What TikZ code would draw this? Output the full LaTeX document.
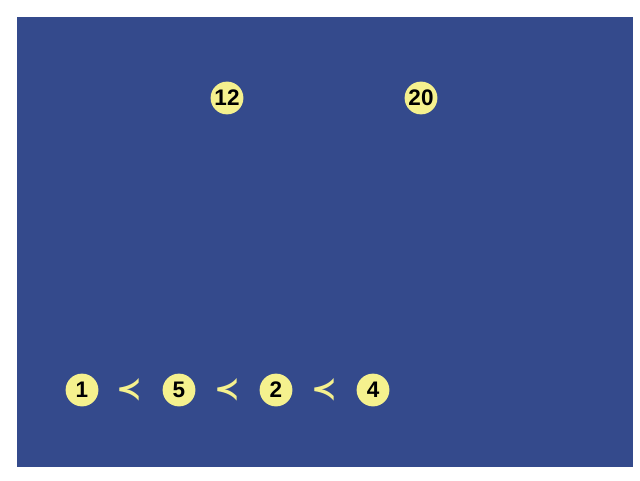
\documentclass[tikz,border=0pt]{standalone}
\usepackage{fontspec}
\setmainfont{Liberation Sans}
\newfontfamily\symfont{DejaVu Sans}
\usetikzlibrary{positioning}

\definecolor{panelblue}{RGB}{52,74,140}
\definecolor{ballyellow}{RGB}{245,241,142}

\tikzset{
  ball/.style={circle, fill=ballyellow, minimum size=0.82cm, inner sep=0pt,
    font=\fontsize{16}{18}\selectfont\bfseries, text=black},
  rel/.style={text=ballyellow, font=\symfont\bfseries\fontsize{22}{24}\selectfont, inner sep=0pt}
}

\begin{document}
\begin{tikzpicture}

% Page and blue panel
\useasboundingbox (0,0) rectangle (16,12);
\fill[white] (0,0) rectangle (16,12);
\fill[panelblue] (0.425,0.325) rectangle (15.825,11.575);

% Top pair of numbers
\node[ball] (n12) at (5.675,9.55) {12};
\node[ball] (n20) at (10.525,9.55) {20};

% Bottom chain
\node[ball] (n1) at (2.05,2.25) {1};
\node[rel] (p1) at (3.225,2.25) {≺};
\node[ball] (n5) at (4.475,2.25) {5};
\node[rel] (p2) at (5.675,2.25) {≺};
\node[ball] (n2) at (6.9,2.25) {2};
\node[rel] (p3) at (8.1,2.25) {≺};
\node[ball] (n4) at (9.325,2.25) {4};

\end{tikzpicture}
\end{document}
